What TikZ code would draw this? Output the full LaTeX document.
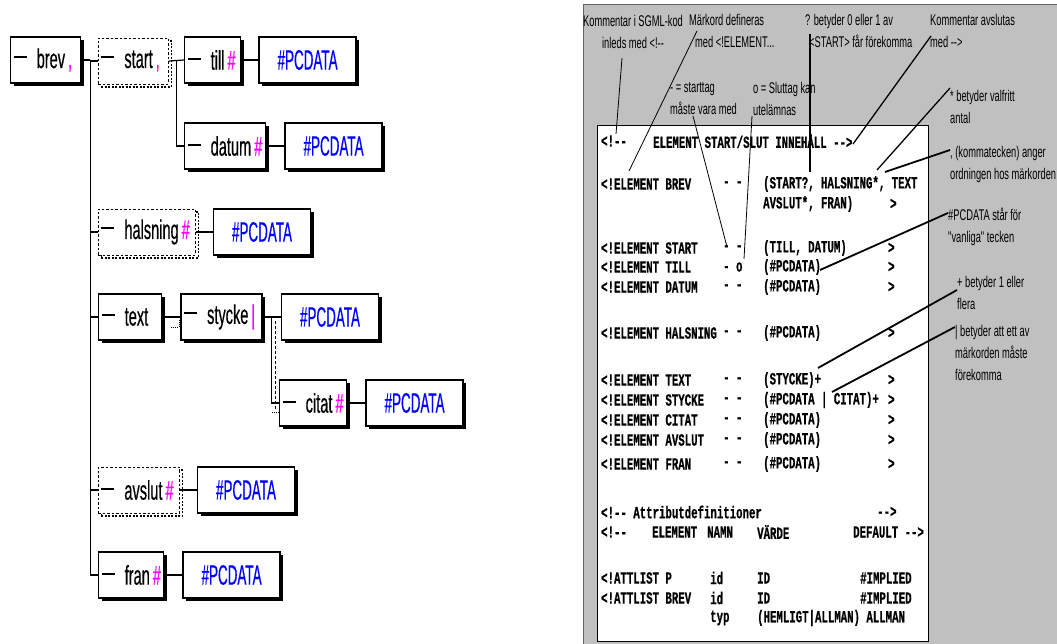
\documentclass[tikz,border=0pt]{standalone}
\usepackage{fontspec}
\newfontfamily\treefont[FakeStretch=0.54,FakeBold=0.4]{Liberation Sans}
\newfontfamily\pcfont[FakeStretch=0.48,FakeBold=0.4]{Liberation Sans}
\newfontfamily\notefont[FakeStretch=0.6]{Liberation Sans}
\newfontfamily\codefont[FakeStretch=0.63,FakeBold=0.6]{Liberation Mono}
\usetikzlibrary{calc}
\usetikzlibrary{positioning}
\usetikzlibrary{shadows}

\definecolor{panelgray}{HTML}{C0C0C0}
\definecolor{markpink}{HTML}{FF00FF}
\definecolor{pcblue}{HTML}{0000FF}

\newcommand{\elname}[2]{\mbox{\rule[10pt]{13pt}{1.6pt}\hspace{10pt}#1\hspace{3pt}{\color{markpink}#2}}}

\begin{document}
\begin{tikzpicture}[x=1pt,y=-1pt]
\tikzstyle{elbase}=[draw, fill=white, rectangle, anchor=west, minimum height=46pt, inner xsep=3pt, inner ysep=0pt, align=left, font=\treefont\fontsize{27}{29}\selectfont]
\tikzstyle{elem}=[elbase, line width=1.4pt, drop shadow={shadow xshift=3pt, shadow yshift=-3pt, fill=black, opacity=1}]
\tikzstyle{optelem}=[elbase, line width=0.8pt, dash pattern=on 2.5pt off 2pt, drop shadow={shadow xshift=3pt, shadow yshift=-3pt, fill=none, draw=black, line width=1.8pt, dash pattern=on 2pt off 1.5pt, opacity=1}]
\tikzstyle{pcdata}=[elem, text width=91pt, align=center, text=pcblue, font=\pcfont\fontsize{28}{30}\selectfont]
\tikzstyle{tree}=[line width=1.2pt]
\tikzstyle{code}=[anchor=west, inner sep=0pt, font=\codefont\bfseries\fontsize{17}{19}\selectfont]
\tikzstyle{note}=[anchor=west, inner sep=0pt, align=left, font=\notefont\fontsize{15.5}{22}\selectfont]
\tikzstyle{pointer}=[line width=0.8pt]
\tikzstyle{thickpointer}=[line width=1.8pt]

\useasboundingbox (0,0) rectangle (1057,644);

% element tree
\node[elem, text width=64pt] (brev) at (10,60) {\elname{brev}{,}};
\node[optelem, text width=64pt] (start) at (98,61) {\elname{start}{,}};
\node[elem, text width=50pt] (till) at (184,60) {\elname{till}{\#}};
\node[pcdata, right=17pt of till] (pcTill) {\#PCDATA};
\node[elem, text width=75pt] (datum) at (184,146) {\elname{datum}{\#}};
\node[pcdata, right=18pt of datum] (pcDatum) {\#PCDATA};
\node[optelem, text width=91pt] (halsning) at (98,232) {\elname{halsning}{\#}};
\node[pcdata, right=17pt of halsning] (pcHalsning) {\#PCDATA};
\node[elem, text width=57pt] (text) at (98,317) {\elname{text}{}};
\node[elem, text width=75pt, right=18pt of text] (stycke) {\elname{stycke}{|}};
\node[pcdata, right=18pt of stycke] (pcStycke) {\#PCDATA};
\node[elem, text width=61pt] (citat) at (279,403) {\elname{citat}{\#}};
\node[pcdata, right=18pt of citat] (pcCitat) {\#PCDATA};
\node[optelem, text width=75pt] (avslut) at (98,490) {\elname{avslut}{\#}};
\node[pcdata, right=17pt of avslut] (pcAvslut) {\#PCDATA};
\node[elem, text width=59pt] (fran) at (98,575) {\elname{fran}{\#}};
\node[pcdata, right=18pt of fran] (pcFran) {\#PCDATA};

\coordinate (trunk) at ($(brev.east)+(9,0)$);
\draw[tree] (brev.east) -- (trunk);
\foreach \n in {start,halsning,text,avslut,fran}
  \draw[tree] (trunk) |- (\n.west);

\coordinate (stfork) at ($(start.east)+(8,0)$);
\draw[tree] (start.east) -- (till.west);
\draw[tree] (stfork) |- (datum.west);
\draw[tree] (till.east) -- (pcTill.west);
\draw[tree] (datum.east) -- (pcDatum.west);
\draw[tree] (halsning.east) -- (pcHalsning.west);

\draw[tree] (text.east) -- (stycke.west);
\draw[densely dotted, line width=1pt] ($(stycke.west)+(-9,10)$) -| ($(stycke.west)+(-1,3)$);
\coordinate (syfork) at ($(stycke.east)+(9,0)$);
\draw[tree] (stycke.east) -- (pcStycke.west);
\draw[tree] (syfork) |- (citat.west);
\draw[densely dashed, line width=0.8pt] ($(syfork)+(4,4)$) -- ($(syfork)+(4,93)$);
\draw[densely dotted, line width=1pt] ($(syfork)+(0,95)$) -- ($(citat.west)+(0,9)$);
\draw[tree] (citat.east) -- (pcCitat.west);
\draw[tree] (avslut.east) -- (pcAvslut.west);
\draw[tree] (fran.east) -- (pcFran.west);

% DTD panel
\fill[panelgray] (583,5) rectangle (1057,644);
\draw[black!60, line width=1pt] (583,644) -- (583,5) -- (1057,5);
\node[draw, line width=1pt, fill=white, anchor=north west, minimum width=331pt, minimum height=516pt, inner sep=0pt] (codebox) at (597,125) {};

\node[code] (hdA) at (601,141) {<!-{}-};
\node[code] (hdB) at (653,141) {ELEMENT START/SLUT INNEHÅLL -{}->};

\node[code] (elBREV) at (601,184) {<!ELEMENT BREV};
\node[code] (tgBREV) at (723,184) {- -};
\node[code] (ctBREV) at (763,184) {(START?, HALSNING*, TEXT};
\node[code] (ctBREVb) at (763,204) {AVSLUT*, FRAN)};
\node[code] (clBREV) at (890,204) {>};

\foreach \y/\nm/\tg/\ct in {248/START/- -/{(TILL, DATUM)}, 267/TILL/- o/(\#PCDATA), 287/DATUM/- -/(\#PCDATA), 333/HALSNING/- -/(\#PCDATA), 380/TEXT/- -/(STYCKE)+, 400/STYCKE/- -/{(\#PCDATA | CITAT)+}, 420/CITAT/- -/(\#PCDATA), 440/AVSLUT/- -/(\#PCDATA), 464/FRAN/- -/(\#PCDATA)}{
  \node[code] (el\nm) at (601,\y) {<!ELEMENT \nm};
  \node[code] (tg\nm) at (723,\y) {\tg};
  \node[code] (ct\nm) at (763,\y) {\ct};
  \node[code] (cl\nm) at (888,\y) {>};
}

\node[code] (atA) at (601,512) {<!-{}- Attributdefinitioner};
\node[code] (atB) at (877,512) {-{}->};
\node[code] (colA) at (601,532) {<!-{}-};
\node[code] (colB) at (652,532) {ELEMENT};
\node[code] (colC) at (707,532) {NAMN};
\node[code] (colD) at (757,532) {VÄRDE};
\node[code] (colE) at (853,532) {DEFAULT -{}->};

\node[code] (alP) at (601,578) {<!ATTLIST P};
\node[code] (alPn) at (710,578) {id};
\node[code] (alPv) at (757,578) {ID};
\node[code] (alPd) at (860,578) {\#IMPLIED};
\node[code] (alB) at (601,598) {<!ATTLIST BREV};
\node[code] (alBn) at (710,598) {id};
\node[code] (alBv) at (757,598) {ID};
\node[code] (alBd) at (860,598) {\#IMPLIED};
\node[code] (alTn) at (710,618) {typ};
\node[code] (alTv) at (757,618) {(HEMLIGT|ALLMAN) ALLMAN};

% annotations
\node[note, anchor=center, align=center] (nComStart) at (633,32) {Kommentar i SGML-kod\\inleds med <!-{}-};
\node[note] (nDefine) at (689,31) {Märkord defineras\\\hspace{6pt}med <!ELEMENT...};
\node[note] (nStartTag) at (670,99) {- = starttag\\måste vara med};
\node[note] (nEndTag) at (753,99) {o = Sluttag kan\\utelämnas};
\node[note] (nOptional) at (805,31) {? betyder 0 eller 1 av\\\hspace{4pt}<START> får förekomma};
\node[note] (nComEnd) at (930,31) {Kommentar avslutas\\med -{}->};
\node[note] (nStar) at (950,107) {* betyder valfritt\\antal};
\node[note] (nComma) at (950,164) {, (kommatecken) anger\\ordningen hos märkorden};
\node[note] (nPcdata) at (948,227) {\#PCDATA står för\\"vanliga" tecken};
\node[note] (nPlus) at (957,293) {+ betyder 1 eller\\flera};
\node[note] (nBar) at (955,353) {| betyder att ett av\\märkorden måste\\förekomma};

\coordinate (pA1) at (622,58);  \coordinate (pA2) at (616,134);
\coordinate (pB1) at (697,31);  \coordinate (pB2) at (629,171);
\coordinate (pC1) at (693,116); \coordinate (pC2) at (727,247);
\coordinate (pD1) at (752,116); \coordinate (pD2) at (744,259);
\coordinate (pE1) at (810,34);  \coordinate (pE2) at (810,172);
\coordinate (pF1) at (931,36);  \coordinate (pF2) at (853,144);
\coordinate (pG1) at (950,88);  \coordinate (pG2) at (877,170);
\coordinate (pH1) at (950,150); \coordinate (pH2) at (885,172);
\coordinate (pI1) at (948,213); \coordinate (pI2) at (820,270);
\coordinate (pJ1) at (957,290); \coordinate (pJ2) at (818,368);
\coordinate (pK1) at (955,327); \coordinate (pK2) at (832,392);

\draw[pointer] (pA1) -- (pA2);
\draw[pointer] (pB1) -- (pB2);
\draw[pointer] (pC1) -- (pC2);
\draw[pointer] (pD1) -- (pD2);
\draw[pointer, line width=1.3pt] (pE1) -- (pE2);
\draw[pointer, line width=1.3pt] (pF1) -- (pF2);
\draw[pointer, line width=1.3pt] (pG1) -- (pG2);
\draw[thickpointer] (pH1) -- (pH2);
\draw[thickpointer] (pI1) -- (pI2);
\draw[thickpointer] (pJ1) -- (pJ2);
\draw[thickpointer] (pK1) -- (pK2);

\end{tikzpicture}
\end{document}
